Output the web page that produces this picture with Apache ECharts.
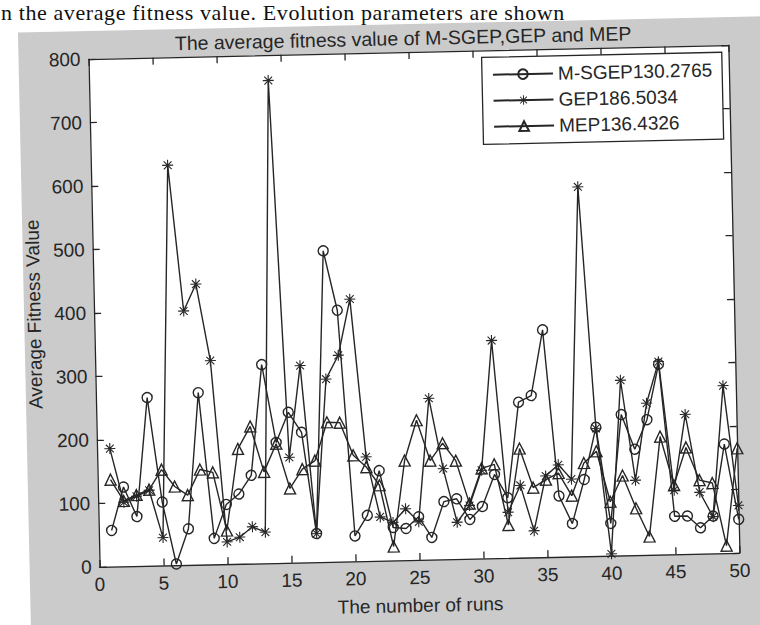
<!DOCTYPE html>
<html><head><meta charset="utf-8">
<script src="https://cdn.jsdelivr.net/npm/echarts@6/dist/echarts.min.js"></script>
<style>
html,body{margin:0;padding:0;background:#fff;width:760px;height:625px;overflow:hidden;}
#wrap{position:absolute;left:0;top:0;width:760px;height:625px;transform:rotate(-1.25deg);transform-origin:414px 306px;}
#bg{position:absolute;left:24px;top:24px;width:800px;height:680px;background:#cbcbcb;}
#chart{position:absolute;left:0;top:0;width:760px;height:625px;}
#page{position:absolute;left:1px;top:0;height:25px;font:22px 'Liberation Serif','Times New Roman',serif;line-height:25px;letter-spacing:0.6px;color:#111;white-space:nowrap;}
</style></head><body>
<div id="page"></div>
<div id="wrap"><div id="bg"></div><div id="chart"></div></div>
<script>
// ---- data ----
const runs = [1,2,3,4,5,6,7,8,9,10,11,12,13,14,15,16,17,18,19,20,21,22,23,24,25,26,27,28,29,30,31,32,33,34,35,36,37,38,39,40,41,42,43,44,45,46,47,48,49,50];
const msgep = [57,125,78,265,100,2,57,271,41,94, 110,139,313,190,237,205,45,490,396,40, 72,142,52,50,68,35,91,95,62,82, 132,95,245,255,358,96,52,121,203,51, 222,167,213,300,60,60,41,59,172,53];
const gep = [186,101,110,119,44,630,400,442,321,35, 42,58,49,760,166,310,45,288,325,413, 164,69,60,81,60,254,143,58,84,139, 343,72,114,42,128,145,122,582,201,3, 276,118,239,304,101,220,97,58,264,75];
const mep = [137,103,112,120,151,124,110,150,145,53, 181,216,144,188,117,147,160,220,219,167, 148,119,22,157,220,156,183,155,87,142, 148,52,172,110,122,132,96,147,165,85, 126,74,29,186,109,168,116,111,12,165];
const seriesNames = ['M-SGEP130.2765','GEP186.5034','MEP136.4326'];
const titleText = 'The average fitness value of M-SGEP,GEP and MEP';
const xName = 'The number of runs';
const yName = 'Average Fitness Value';
const pageText = 'n the average fitness value. Evolution parameters are shown';

document.getElementById('page').textContent = pageText;

// ---- styling ----
const FONT = "'Liberation Sans', Arial, Helvetica, sans-serif";
const INK = '#262626';
const starPath = 'path://M9,0L11,0L11,20L9,20Z M0,9L20,9L20,11L0,11Z M2.2,3.6L3.6,2.2L17.8,16.4L16.4,17.8Z M16.4,2.2L17.8,3.6L3.6,17.8L2.2,16.4Z';
function pairs(vals){ return runs.map((r,i)=>[r, vals[i]]); }

const axisCommon = {
  axisLine:{show:true, onZero:false, lineStyle:{color:INK,width:1.3}},
  axisTick:{show:true, inside:true, length:7, lineStyle:{color:INK,width:1.3}},
  splitLine:{show:false}
};
const labelStyle = {color:INK, fontFamily:FONT, fontSize:19};

function mkSeries(name, vals, symbol, size, filled){
  return {
    name:name, type:'line', data:pairs(vals), symbol:symbol, symbolSize:size,
    clip:false, silent:true,
    lineStyle:{color:INK, width:1.4},
    itemStyle: filled ? {color:INK, borderWidth:0} : {color:'rgba(255,255,255,0)', borderColor:INK, borderWidth:1.4},
    emphasis:{disabled:true}
  };
}

const chart = echarts.init(document.getElementById('chart'), null, {renderer:'svg'});
chart.setOption({
  animation:false,
  backgroundColor:'transparent',
  title:{text:titleText, left:404, top:23, textAlign:'center',
         textStyle:{fontFamily:FONT, fontSize:19.5, fontWeight:'normal', color:INK}},
  legend:{
    data:seriesNames, orient:'vertical', left:487, top:59,
    padding:[8,10,8,10], itemGap:7, itemWidth:60, itemHeight:12,
    borderColor:INK, borderWidth:1.3, borderRadius:0, backgroundColor:'#fff',
    textStyle:{color:INK, fontFamily:FONT, fontSize:19}, selectedMode:false
  },
  grid:{left:94, right:26, top:52, bottom:65, show:true, backgroundColor:'#fff', borderWidth:0, outerBoundsMode:'none'},
  xAxis:[
    Object.assign({type:'value', min:0, max:50, interval:5, position:'bottom',
      axisLabel:Object.assign({margin:8}, labelStyle),
      name:xName, nameLocation:'middle', nameGap:36, nameTextStyle:labelStyle}, axisCommon),
    Object.assign({type:'value', min:0, max:50, interval:5, position:'top', axisLabel:{show:false}}, axisCommon)
  ],
  yAxis:[
    Object.assign({type:'value', min:0, max:800, interval:100, position:'left',
      axisLabel:Object.assign({margin:8}, labelStyle),
      name:yName, nameLocation:'middle', nameGap:50, nameRotate:90, nameTextStyle:labelStyle}, axisCommon),
    Object.assign({type:'value', min:0, max:800, interval:100, position:'right', axisLabel:{show:false}}, axisCommon)
  ],
  series:[
    mkSeries(seriesNames[0], msgep, 'circle', 10, false),
    mkSeries(seriesNames[1], gep, starPath, 11, true),
    mkSeries(seriesNames[2], mep, 'triangle', 11, false)
  ]
});
</script></body></html>
